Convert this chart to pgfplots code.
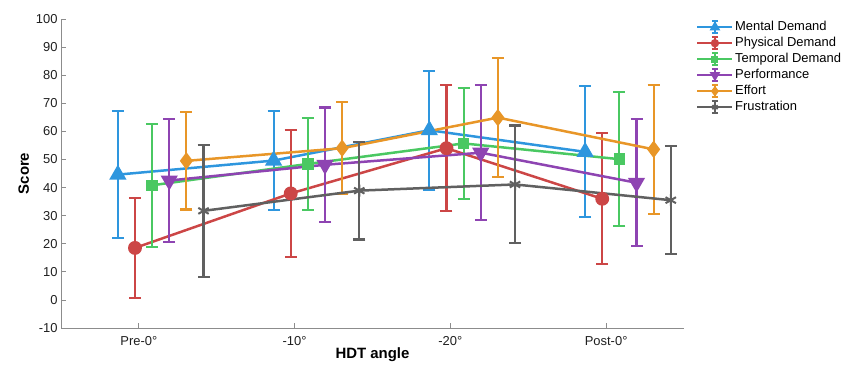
\documentclass[border=0pt]{standalone}
\usepackage{fontspec}
\setmainfont{Liberation Sans}
\usepackage{pgfplots}
\pgfplotsset{compat=1.18}
\definecolor{cMD}{RGB}{46,150,222}
\definecolor{cPD}{RGB}{204,70,70}
\definecolor{cTD}{RGB}{74,200,98}
\definecolor{cPF}{RGB}{142,68,178}
\definecolor{cEF}{RGB}{232,150,40}
\definecolor{cFR}{RGB}{96,96,96}
\pgfplotsset{
  serr/.style={line width=2.5bp,
    error bars/.cd, y dir=both, y explicit,
    error bar style={line width=2.1bp, solid},
    error mark=|, error mark options={mark size=6bp, line width=2.1bp}},
}
\begin{document}
\begin{tikzpicture}
\useasboundingbox (-61bp,-41bp) rectangle (784bp,328bp);
\begin{axis}[
  at={(0,0)}, anchor=south west,
  scale only axis, width=623bp, height=309bp,
  xmin=-0.5, xmax=3.5, ymin=-10, ymax=100,
  xtick={0,1,2,3}, xticklabels={Pre-0°,-10°,-20°,Post-0°},
  ytick={-10,0,10,20,30,40,50,60,70,80,90,100},
  axis x line*=bottom, axis y line*=left,
  axis line style={black!45, line width=0.8pt, -},
  tick align=inside, major tick length=5bp,
  tick style={black!45, line width=0.8pt},
  tick label style={font=\fontsize{13}{15}\selectfont, text=black!88},
  xticklabel style={yshift=-5bp},
  xlabel style={yshift=5bp},
  /pgf/number format/assume math mode=true,
  xlabel={HDT angle}, ylabel={Score},
  label style={font=\bfseries\fontsize{15}{17}\selectfont},
  legend style={at={(1,1)}, anchor=north west, xshift=12bp, draw=none, fill=none,
    inner sep=0pt, row sep=0pt,
    nodes={inner sep=1.5bp, text height=10bp, text depth=3bp},
    font=\fontsize{13}{15}\selectfont},
  legend cell align=left,
  legend image code/.code={
    \draw[#1, line width=2.5bp] (0bp,0bp) -- (35bp,0bp);
    \draw[#1, line width=2.1bp, solid] (17.5bp,-6bp) -- (17.5bp,6bp) (14.5bp,-6bp) -- (20.5bp,-6bp) (14.5bp,6bp) -- (20.5bp,6bp);
    \draw[#1, /tikz/every mark/.append style={scale=0.55}] plot coordinates {(17.5bp,0bp)};
  },
]
\addplot[color=cMD, mark=triangle*, mark size=8.5bp, mark options={solid, line width=1.5bp}, serr] table[x=x, y=y, y error=e] {
x y e
-0.135 44.6 22.5
0.865 49.6 17.7
1.865 60.4 21.1
2.865 52.7 23.3
};
\addlegendentry{Mental Demand}
\addplot[color=cPD, mark=*, mark size=6.2bp, mark options={solid, line width=1.5bp}, serr] table[x=x, y=y, y error=e] {
x y e
-0.025 18.5 17.7
0.975 37.9 22.6
1.975 54.0 22.4
2.975 36.0 23.3
};
\addlegendentry{Physical Demand}
\addplot[color=cTD, mark=square*, mark size=5bp, mark options={solid, line width=1.5bp}, serr] table[x=x, y=y, y error=e] {
x y e
0.085 40.8 21.9
1.085 48.4 16.5
2.085 55.7 19.8
3.085 50.1 23.9
};
\addlegendentry{Temporal Demand}
\addplot[color=cPF, mark=triangle*, mark size=8.5bp, mark options={solid, rotate=180, line width=1.5bp}, serr] table[x=x, y=y, y error=e] {
x y e
0.195 42.5 22.0
1.195 48.1 20.4
2.195 52.4 24.1
3.195 41.7 22.6
};
\addlegendentry{Performance}
\addplot[color=cEF, mark=diamond*, mark size=7.5bp, mark options={solid, line width=1.5bp}, serr] table[x=x, y=y, y error=e] {
x y e
0.305 49.5 17.3
1.305 54.0 16.4
2.305 64.9 21.1
3.305 53.6 23.0
};
\addlegendentry{Effort}
\addplot[color=cFR, mark=asterisk, mark size=6bp, mark options={solid, line width=2bp}, serr] table[x=x, y=y, y error=e] {
x y e
0.415 31.7 23.5
1.415 38.9 17.4
2.415 41.1 21.0
3.415 35.5 19.3
};
\addlegendentry{Frustration}
\end{axis}
\end{tikzpicture}
\end{document}
